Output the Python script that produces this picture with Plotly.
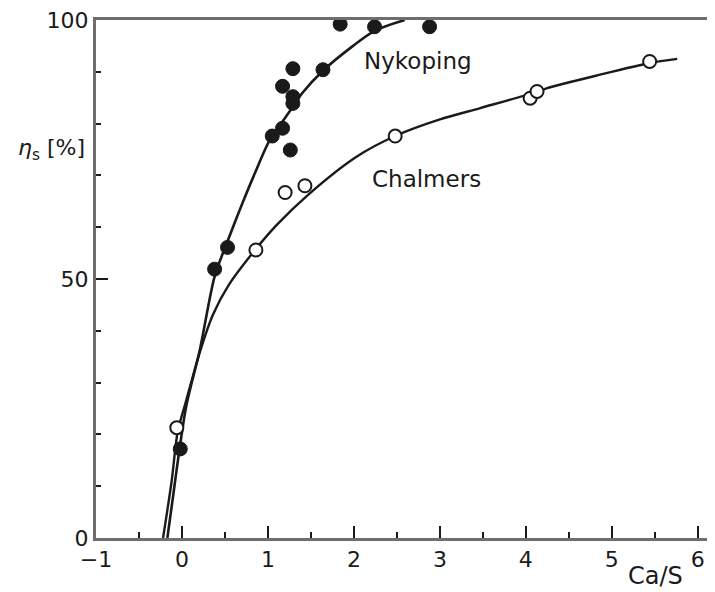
import plotly.graph_objects as go

# Measured points (Ca/S, eta_s %)
nyk_x = [-0.02, 0.38, 0.53, 1.05, 1.17, 1.26, 1.17, 1.29, 1.29, 1.29, 1.64, 1.84, 2.24, 2.88]
nyk_y = [17.2, 51.9, 56.1, 77.6, 79.1, 74.9, 87.2, 90.6, 85.2, 83.9, 90.4, 99.2, 98.7, 98.7]

cha_x = [-0.06, 0.86, 1.20, 1.43, 2.48, 4.05, 4.13, 5.44]
cha_y = [21.3, 55.6, 66.7, 68.0, 77.6, 84.9, 86.2, 92.0]

# Fitted curves
nyk_curve_x = [-0.17, -0.10, -0.03, 0.05, 0.21, 0.38, 0.53, 0.70, 0.85, 1.02, 1.17, 1.28, 1.40, 1.64, 1.99, 2.24, 2.59]
nyk_curve_y = [0.0, 8.5, 17.0, 25.5, 36.5, 50.5, 57.3, 64.5, 70.5, 76.8, 80.4, 83.0, 85.9, 90.2, 95.0, 97.9, 100.0]

cha_curve_x = [-0.22, -0.12, -0.05, 0.04, 0.21, 0.36, 0.55, 0.85, 1.10, 1.47, 2.03, 2.48, 3.00, 3.47, 4.10, 4.24, 4.83, 5.44, 5.76]
cha_curve_y = [0.0, 11.0, 20.5, 26.0, 36.0, 43.1, 49.0, 55.6, 60.4, 66.3, 73.6, 77.6, 80.8, 83.0, 86.0, 86.8, 89.3, 91.7, 92.5]

x_ticks = [-1, 0, 1, 2, 3, 4, 5, 6]
y_ticks = [0, 50, 100]

FONT = "DejaVu Sans"
INK = "#1a1a1a"
AXIS = "#6e6e6e"

# page body adds an 8px offset; compensate so the plot lands where the reference has it
OFF = 8
L, T, B = 96 - OFF, 16 - OFF, 54
W, H = 715 - OFF, 592 - OFF
PW, PH = W - L, H - T - B

fig = go.Figure()
fig.add_trace(go.Scatter(x=nyk_curve_x, y=nyk_curve_y, mode="lines",
                         line=dict(color=INK, width=2.6, shape="spline", smoothing=0.8),
                         hoverinfo="skip", showlegend=False))
fig.add_trace(go.Scatter(x=cha_curve_x, y=cha_curve_y, mode="lines",
                         line=dict(color=INK, width=2.4, shape="spline", smoothing=0.8),
                         hoverinfo="skip", showlegend=False))
fig.add_trace(go.Scatter(x=nyk_x, y=nyk_y, mode="markers", name="Nykoping",
                         marker=dict(symbol="circle", size=14, color=INK,
                                     line=dict(color=INK, width=1)),
                         showlegend=False))
fig.add_trace(go.Scatter(x=cha_x, y=cha_y, mode="markers", name="Chalmers",
                         marker=dict(symbol="circle", size=13, color="white",
                                     line=dict(color=INK, width=2)),
                         showlegend=False))

fig.add_annotation(x=2.74, y=92.0, text="Nykoping", showarrow=False,
                   xanchor="center", yanchor="middle",
                   font=dict(family=FONT, size=23, color=INK))
fig.add_annotation(x=2.85, y=69.3, text="Chalmers", showarrow=False,
                   xanchor="center", yanchor="middle",
                   font=dict(family=FONT, size=23, color=INK))
fig.add_annotation(xref="paper", yref="paper", x=(655 - 96) / PW, y=(538 - 576) / PH,
                   text="Ca/S", showarrow=False, xanchor="center", yanchor="middle",
                   font=dict(family=FONT, size=24, color=INK))
fig.add_annotation(xref="paper", yref="paper", x=(52 - 96) / PW, y=(538 - 147) / PH,
                   text="<i>η</i><sub>s</sub> [%]", showarrow=False,
                   xanchor="center", yanchor="middle",
                   font=dict(family=FONT, size=22, color=INK))

fig.update_xaxes(range=[-1, 6.2], tickmode="array", tickvals=x_ticks,
                 ticktext=["\u22121" if v < 0 else str(v) for v in x_ticks],
                 ticks="inside", ticklen=12, tickwidth=2, tickcolor=INK,
                 minor=dict(dtick=0.5, ticks="inside", ticklen=6, tickwidth=1.5, tickcolor=INK),
                 showline=True, linecolor=AXIS, linewidth=3, mirror=True,
                 showgrid=False, zeroline=False, ticklabeloverflow="allow",
                 tickfont=dict(family=FONT, size=22, color=INK))
fig.update_yaxes(range=[0, 100], tickmode="array", tickvals=y_ticks,
                 ticks="inside", ticklen=12, tickwidth=2, tickcolor=INK,
                 minor=dict(dtick=10, ticks="inside", ticklen=5, tickwidth=1.5, tickcolor=INK),
                 showline=True, linecolor=AXIS, linewidth=3,
                 showgrid=False, zeroline=False, ticklabeloverflow="allow",
                 tickfont=dict(family=FONT, size=22, color=INK))

fig.update_layout(width=W, height=H, margin=dict(l=L, r=0, t=T, b=B),
                  paper_bgcolor="white", plot_bgcolor="white")

fig.write_html("out.html")
